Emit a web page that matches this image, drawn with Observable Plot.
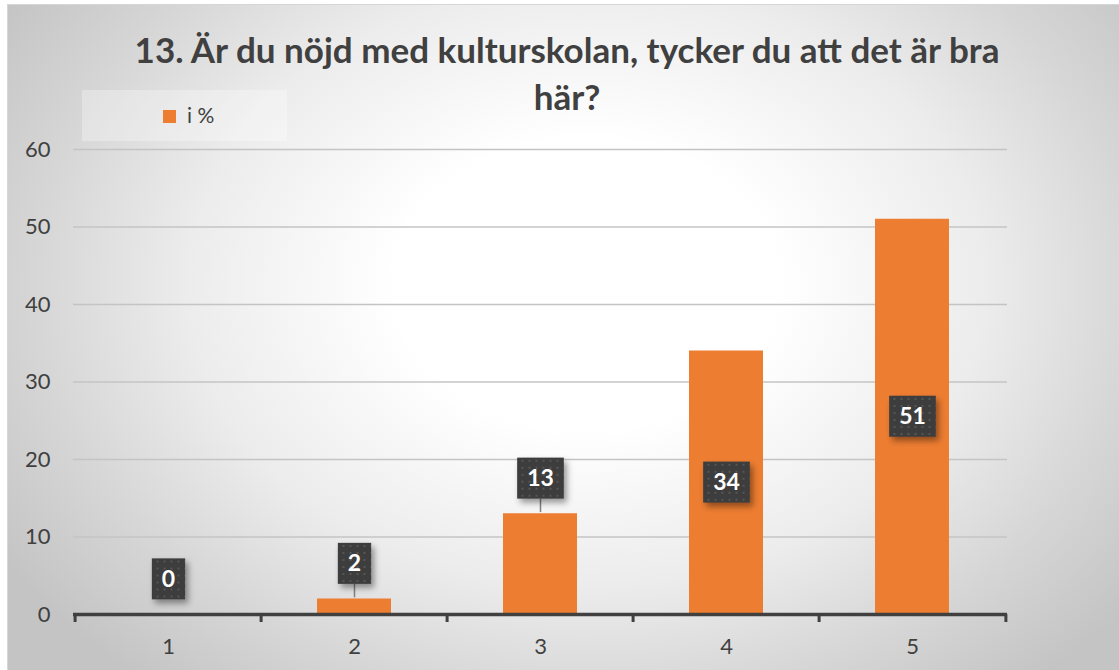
<!DOCTYPE html>
<html>
<head>
<meta charset="utf-8">
<script src="https://cdn.jsdelivr.net/npm/d3@7"></script>
<script src="https://cdn.jsdelivr.net/npm/@observablehq/plot@0.6"></script>
<style>
  html, body { margin: 0; padding: 0; background: #ffffff; }
  #wrap { position: relative; width: 1119px; height: 670px; overflow: hidden; font-family: Lato, "Open Sans", sans-serif; }
  #frame { position: absolute; left: 7px; top: 4px; width: 1112px; height: 666px;
    border-left: 1px solid #d6d6d6; border-top: 1px solid #d6d6d6;
    background: radial-gradient(ellipse 62% 78% at 52% 42%, #ffffff 0%, #ffffff 28%, #ececec 58%, #d6d6d6 80%, #c4c4c4 100%); }
  #title { position: absolute; left: 15px; top: 26px; width: 1104px; text-align: center;
    font-weight: 700; font-size: 35px; line-height: 47px; color: #404040; }
  #legend { position: absolute; left: 82px; top: 90px; width: 205px; height: 51px; background: rgba(255,255,255,0.3); }
  #legend .sw { position: absolute; left: 81px; top: 20px; width: 13px; height: 13px; background: #ED7D31; }
  #legend .lb { position: absolute; left: 105px; top: 12px; font-size: 21px; color: #404040; line-height: 26px; }
  #chart { position: absolute; left: 0; top: 0; }
</style>
</head>
<body>
<div id="wrap">
  <div id="frame"></div>
  <div id="title"></div>
  <div id="legend"><div class="sw"></div><div class="lb"></div></div>
  <div id="chart"></div>
</div>
<script>
const titleLines = ["13. Är du nöjd med kulturskolan, tycker du att det är bra", "här?"];
const seriesName = "i %";
const categories = ["1", "2", "3", "4", "5"];
const values = [0, 2, 13, 34, 51];
const yTicks = [0, 10, 20, 30, 40, 50, 60];

document.getElementById("title").innerHTML = titleLines.join("<br>");
document.querySelector("#legend .lb").textContent = seriesName;

const data = categories.map((c, i) => ({cat: c, value: values[i]}));
const W = 1119, H = 670, mL = 73, mR = 112, mT = 149, mB = 56;
const step = (W - mL - mR) / categories.length;
const dark = "#404040";
const inside = data.filter(d => d.value >= 20);
const above = data.filter(d => d.value < 20);

const chart = Plot.plot({
  width: W, height: H,
  marginLeft: mL, marginRight: mR, marginTop: mT, marginBottom: mB,
  style: {background: "transparent", fontFamily: "Lato, 'Open Sans', sans-serif", fontSize: "22px", color: dark},
  x: {domain: categories, paddingInner: 0.6, paddingOuter: 0.3, label: null, tickSize: 0, tickPadding: 24},
  y: {domain: [0, 60], ticks: yTicks, label: null, tickSize: 0, tickPadding: 23},
  marks: [
    Plot.ruleY(yTicks.filter(t => t > 0), {stroke: "#c4c4c4", strokeWidth: 1.3}),
    Plot.barY(data, {x: "cat", y: "value", fill: "#ED7D31"}),
    Plot.ruleY([0], {stroke: dark, strokeWidth: 3.5}),
    Plot.ruleX(categories, {x: d => d, y1: 0, y2: 0, insetBottom: -8, dx: -step / 2, stroke: dark, strokeWidth: 3}),
    Plot.ruleX(categories.slice(-1), {x: d => d, y1: 0, y2: 0, insetBottom: -8, dx: step / 2, stroke: dark, strokeWidth: 3}),
    Plot.text(above, {x: "cat", y: "value", text: d => String(d.value), dy: -35, fill: "white", fontWeight: "bold", fontSize: 23}),
    Plot.text(inside, {x: "cat", y: d => d.value / 2, text: d => String(d.value), fill: "white", fontWeight: "bold", fontSize: 23})
  ]
});
document.getElementById("chart").appendChild(chart);

// label boxes (dark, dotted, with shadow) and leader lines
const ns = "http://www.w3.org/2000/svg";
const defs = document.createElementNS(ns, "defs");
defs.innerHTML = `
  <pattern id="dots" width="7" height="7" patternUnits="userSpaceOnUse">
    <rect width="7" height="7" fill="#3c3c3c"/>
    <rect x="2" y="2" width="2" height="2" fill="#575757"/>
  </pattern>
  <filter id="shadow" x="-30%" y="-30%" width="170%" height="170%">
    <feDropShadow dx="3" dy="4" stdDeviation="3" flood-color="#000" flood-opacity="0.4"/>
  </filter>`;
chart.insertBefore(defs, chart.firstChild);
const textGroups = chart.querySelectorAll('g[aria-label="text"]');
const groupsData = [above, inside];
textGroups.forEach((g, gi) => {
  const texts = Array.from(g.querySelectorAll("text"));
  texts.forEach((t, i) => {
    const d = groupsData[gi][i];
    const bb = t.getBBox();
    const ctm = t.getAttribute("transform");
    const w = Math.max(bb.width + 20, 30), h = 41;
    const cx = bb.x + bb.width / 2, cy = bb.y + bb.height / 2;
    const r = document.createElementNS(ns, "rect");
    r.setAttribute("x", cx - w / 2);
    r.setAttribute("y", cy - h / 2 + 1);
    r.setAttribute("width", w);
    r.setAttribute("height", h);
    r.setAttribute("fill", "url(#dots)");
    r.setAttribute("filter", "url(#shadow)");
    if (ctm) r.setAttribute("transform", ctm);
    g.insertBefore(r, t);
    if (gi === 0 && d.value > 0) {
      const ln = document.createElementNS(ns, "line");
      ln.setAttribute("x1", cx); ln.setAttribute("x2", cx);
      ln.setAttribute("y1", cy + h / 2 + 1);
      ln.setAttribute("y2", cy + 35);
      ln.setAttribute("stroke", "#7f7f7f");
      ln.setAttribute("stroke-width", 1.5);
      if (ctm) ln.setAttribute("transform", ctm);
      g.insertBefore(ln, r);
    }
  });
});
</script>
</body>
</html>
